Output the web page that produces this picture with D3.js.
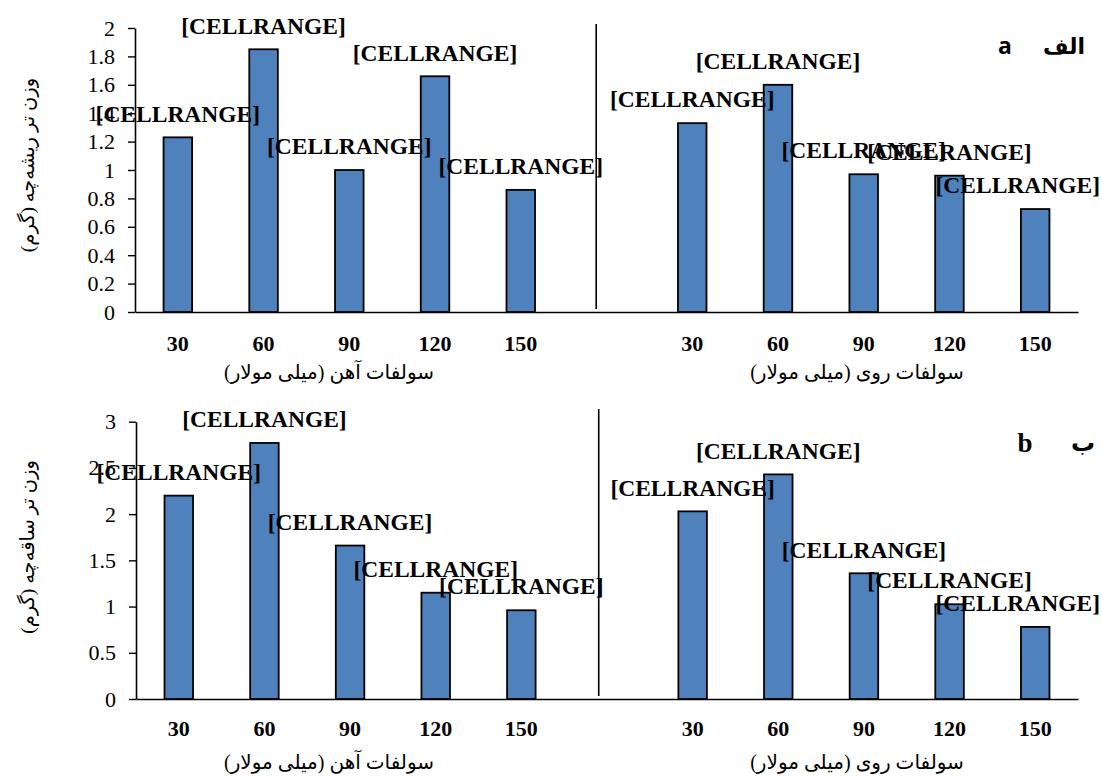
<!DOCTYPE html>
<html>
<head>
<meta charset="utf-8">
<script src="https://cdn.jsdelivr.net/npm/d3@7"></script>
<style>
  html, body { margin: 0; padding: 0; background: #fff; }
  svg { display: block; }
</style>
</head>
<body>
<svg id="chart" width="1102" height="778"></svg>
<script>
// Concentrations (mM) shown under each group of bars
const doses = ["30", "60", "90", "120", "150"];
// Fresh weight of radicle (g): iron sulphate and zinc sulphate
const radicleIron = [1.23, 1.85, 1.0, 1.66, 0.86];
const radicleZinc = [1.33, 1.60, 0.97, 0.96, 0.725];
// Fresh weight of plumule (g): iron sulphate and zinc sulphate
const plumuleIron = [2.2, 2.77, 1.66, 1.15, 0.96];
const plumuleZinc = [2.03, 2.43, 1.36, 1.025, 0.78];
// Y tick values per panel
const radicleTicks = [0, 0.2, 0.4, 0.6, 0.8, 1, 1.2, 1.4, 1.6, 1.8, 2];
const plumuleTicks = [0, 0.5, 1, 1.5, 2, 2.5, 3];
// Text
const ironTitle = "سولفات آهن (میلی مولار)";
const zincTitle = "سولفات روی (میلی مولار)";
const radicleTitle = "وزن تر ریشه‌چه (گرم)";
const plumuleTitle = "وزن تر ساقه‌چه (گرم)";
const dataLabel = "[CELLRANGE]";

const serif = "'Times New Roman', 'Liberation Serif', 'DejaVu Serif', serif";
const arabicFont = "'Times New Roman', 'Liberation Serif', 'DejaVu Sans', serif";

// One band per bar: five iron doses, an empty slot, five zinc doses
const keys = [...doses.map(d => "Fe-" + d), "gap", ...doses.map(d => "Zn-" + d)];
const keyLabel = k => k === "gap" ? "" : k.split("-")[1];

const svg = d3.select("#chart");

function panel(cfg) {
  const x = d3.scaleBand().domain(keys).range([cfg.left, 1078]).paddingInner(0.667).paddingOuter(0.333);
  const y = d3.scaleLinear().domain([0, cfg.max]).range([cfg.bottom, cfg.top]);
  const g = svg.append("g");

  const rows = [
    ...doses.map((d, i) => ({ key: "Fe-" + d, v: cfg.iron[i] })),
    ...doses.map((d, i) => ({ key: "Zn-" + d, v: cfg.zinc[i] }))
  ];

  // bars
  g.selectAll("rect.bar").data(rows).join("rect")
    .attr("class", "bar")
    .attr("x", d => x(d.key))
    .attr("width", x.bandwidth())
    .attr("y", d => y(d.v))
    .attr("height", d => y(0) - y(d.v))
    .attr("fill", "#4f81bd")
    .attr("stroke", "#000")
    .attr("stroke-width", 1.8);

  // y axis
  const ya = g.append("g")
    .attr("transform", `translate(${cfg.left},0)`)
    .call(d3.axisLeft(y).tickValues(cfg.ticks).tickSize(7).tickSizeOuter(0).tickPadding(13)
      .tickFormat(d => String(+d.toFixed(1))));
  ya.select(".domain").attr("stroke", "#000").attr("stroke-width", 1.6);
  ya.selectAll(".tick line").attr("stroke", "#000").attr("stroke-width", 1.4);
  ya.selectAll("text").attr("font-family", serif).attr("font-size", 22).attr("fill", "#000");

  // x axis
  const xa = g.append("g")
    .attr("transform", `translate(0,${cfg.bottom})`)
    .call(d3.axisBottom(x).tickSize(0).tickSizeOuter(0).tickFormat(keyLabel));
  xa.select(".domain").attr("stroke", "#000").attr("stroke-width", 1.6);
  xa.selectAll("text")
    .attr("y", cfg.tickDy).attr("dy", "0.35em")
    .attr("font-family", serif).attr("font-size", 22).attr("font-weight", "bold").attr("fill", "#000");

  // separator between the two salts
  const sx = x("gap") - x.step() * x.paddingInner() / 2 + x.step() * 0.38;
  g.append("line")
    .attr("x1", sx + cfg.sepShift).attr("x2", sx + cfg.sepShift)
    .attr("y1", cfg.sepTop).attr("y2", cfg.bottom - 3)
    .attr("stroke", "#000").attr("stroke-width", 1.6);

  // data labels
  g.selectAll("text.lbl").data(rows).join("text")
    .attr("class", "lbl")
    .attr("font-family", serif).attr("font-size", 23.5).attr("font-weight", "bold")
    .attr("text-anchor", "middle").attr("dy", "0.35em")
    .attr("y", d => y(d.v) - 24)
    .text(dataLabel)
    .each(function (d) {
      const w = this.getComputedTextLength();
      let cx = x(d.key) + x.bandwidth() / 2;
      if (cx + w / 2 > 1100) cx = 1100 - w / 2;
      d3.select(this).attr("x", cx);
    });

  // axis titles
  g.append("text")
    .attr("x", cfg.ironTitleX).attr("y", cfg.titleY).attr("dy", "0.35em")
    .attr("text-anchor", "middle").attr("direction", "rtl")
    .attr("font-family", arabicFont).attr("font-size", 20)
    .text(ironTitle);
  g.append("text")
    .attr("x", cfg.zincTitleX).attr("y", cfg.titleY).attr("dy", "0.35em")
    .attr("text-anchor", "middle").attr("direction", "rtl")
    .attr("font-family", arabicFont).attr("font-size", 20)
    .text(zincTitle);
  g.append("text")
    .attr("transform", `translate(27,${cfg.yTitleY}) rotate(-90)`)
    .attr("dy", "0.35em")
    .attr("text-anchor", "middle").attr("direction", "rtl")
    .attr("font-family", arabicFont).attr("font-size", 19.5)
    .text(cfg.yTitle);

  // panel tags
  g.append("text")
    .attr("x", cfg.tagX).attr("y", cfg.tagY).attr("dy", "0.35em")
    .attr("text-anchor", "middle")
    .attr("font-family", cfg.tagFont).attr("font-size", cfg.tagSize).attr("font-weight", "bold")
    .text(cfg.tag);
  g.append("text")
    .attr("x", cfg.tagFaX).attr("y", cfg.tagY).attr("dy", "0.35em")
    .attr("text-anchor", "middle").attr("direction", "rtl")
    .attr("font-family", cfg.tagFaFont).attr("font-size", cfg.tagFaSize).attr("font-weight", "bold")
    .text(cfg.tagFa);
}

panel({
  left: 135, top: 28, bottom: 312, max: 2, ticks: radicleTicks,
  iron: radicleIron, zinc: radicleZinc,
  tickDy: 31, titleY: 372, ironTitleX: 329, zincTitleX: 857,
  yTitle: radicleTitle, yTitleY: 165,
  sepTop: 24, sepShift: 0,
  tag: "a", tagX: 1005, tagY: 46, tagFont: "'Open Sans', 'Noto Sans', sans-serif", tagSize: 23,
  tagFa: "الف", tagFaX: 1064, tagFaFont: "'DejaVu Sans', sans-serif", tagFaSize: 22
});

panel({
  left: 136, top: 421.7, bottom: 699, max: 3, ticks: plumuleTicks,
  iron: plumuleIron, zinc: plumuleZinc,
  tickDy: 29, titleY: 762, ironTitleX: 329, zincTitleX: 857,
  yTitle: plumuleTitle, yTitleY: 547,
  sepTop: 409, sepShift: 2,
  tag: "b", tagX: 1025, tagY: 443, tagFont: serif, tagSize: 27,
  tagFa: "ب", tagFaX: 1083, tagFaFont: arabicFont, tagFaSize: 24
});
</script>
</body>
</html>
